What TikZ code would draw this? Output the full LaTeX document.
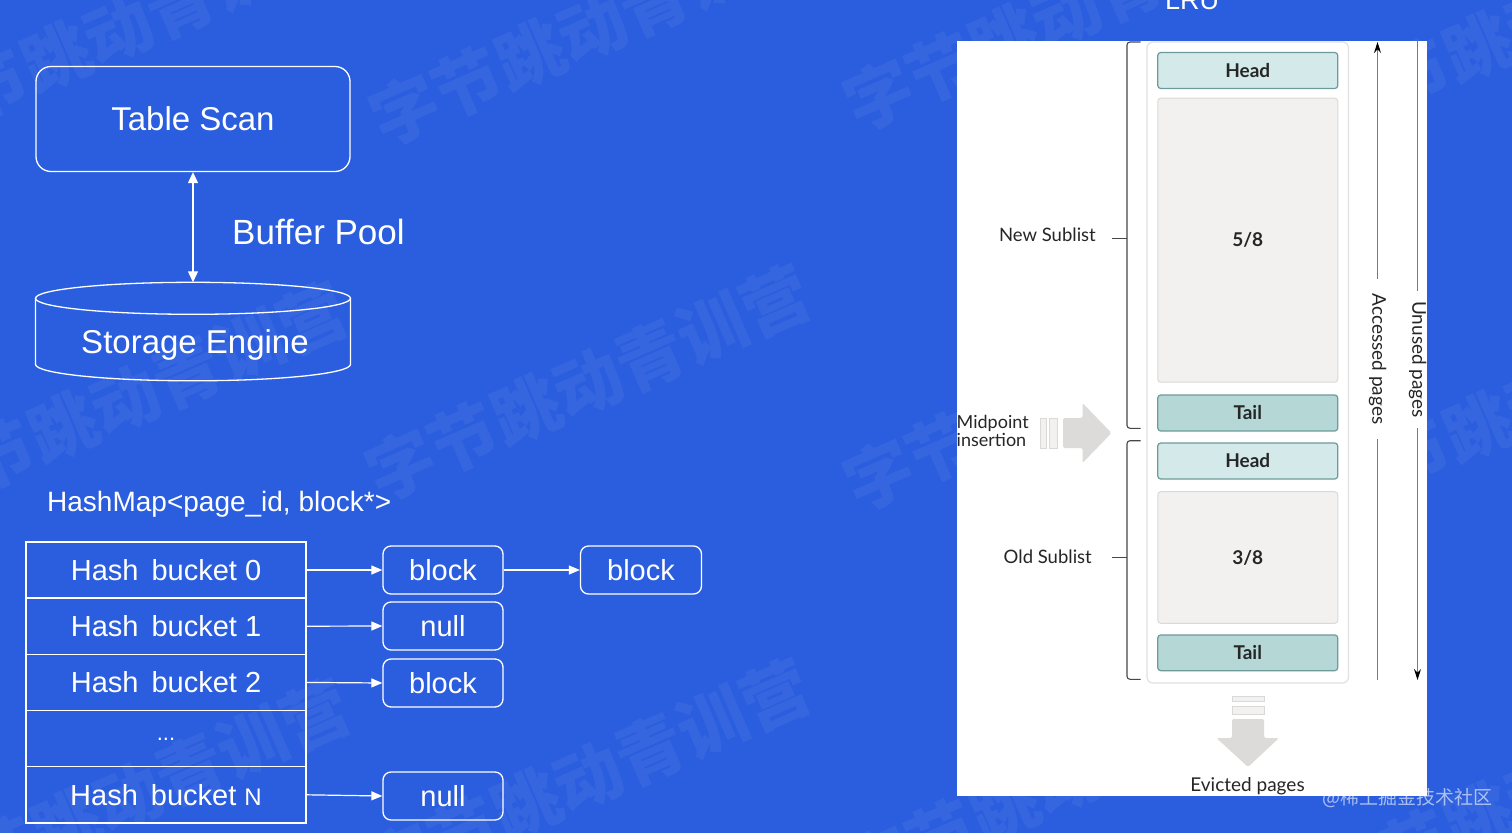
\documentclass[tikz,border=0pt]{standalone}
\usepackage{fontspec}
\setmainfont{Liberation Sans}
\newfontfamily\lato{Lato}
\newfontfamily\cjk{Noto Sans CJK SC}
\usetikzlibrary{arrows.meta,calc}
\definecolor{bg}{HTML}{2B5EDE}
\definecolor{txt}{HTML}{262626}
\definecolor{tealbd}{HTML}{6E9B9A}
\definecolor{headfill}{HTML}{D4EAEA}
\definecolor{tailfill}{HTML}{B5D8D7}
\definecolor{grayfill}{HTML}{F3F1EF}
\definecolor{graybd}{HTML}{D9D9D9}
\definecolor{arrowgray}{HTML}{DCDBD9}
\definecolor{linegray}{HTML}{7A7A7A}
\tikzset{
  wline/.style={draw=white, line width=1.3pt},
  tsbox/.style={wline, rounded corners=15pt, minimum width=314pt, minimum height=105pt, inner sep=0pt,
    text=white, font=\fontsize{33}{36}\selectfont},
  cell/.style={wline, minimum width=280pt, minimum height=56.2pt, inner sep=0pt,
    text=white, font=\fontsize{29}{32}\selectfont},
  blk/.style={wline, rounded corners=8pt, minimum width=120pt, minimum height=48pt, inner sep=0pt,
    text=white, font=\fontsize{29}{32}\selectfont},
  warr/.style={draw=white, line width=1.2pt, -{Triangle[length=11pt,width=9pt]}},
  wdarr/.style={draw=white, line width=1.2pt, {Triangle[length=11pt,width=10pt]}-{Triangle[length=11pt,width=10pt]}},
  wtext/.style={text=white, inner sep=0pt},
  wm/.style={text=white, text opacity=0.055, inner sep=0pt, font=\cjk\bfseries\fontsize{68}{68}\selectfont, rotate=23.7},
  lrulab/.style={text=txt, inner sep=0pt, font=\lato\fontsize{18}{17.5}\selectfont},
  headbox/.style={draw=tealbd, fill=headfill, line width=1.2pt, rounded corners=3pt,
    minimum width=180pt, minimum height=36pt, inner sep=0pt, text=txt, font=\lato\bfseries\fontsize{19}{20}\selectfont},
  tailbox/.style={headbox, fill=tailfill},
  graybox/.style={draw=graybd, fill=grayfill, line width=1pt, rounded corners=3pt,
    minimum width=180pt, inner sep=0pt, text=txt, font=\lato\bfseries\fontsize{19}{20}\selectfont},
  brc/.style={draw=txt!85, line width=1.1pt, rounded corners=3pt},
  gline/.style={draw=linegray, line width=1pt},
  gtip/.style={-{Stealth[length=11pt,width=7pt,black]}},
}
\begin{document}
\begin{tikzpicture}[x=1pt,y=-1pt]
\useasboundingbox (0,0) rectangle (1512,833);
\fill[bg] (0,0) rectangle (1512,833);

% faint background watermarks
\foreach \cx/\cy in {118/30, 592/28, 1066/13, 1540/20, 125/400, 588/383, 1066/393, 1540/400, 128/797, 588/777, 1066/780, 1540/790}{
  \node[wm] at (\cx,\cy) {字节跳动青训营};
}

% ---------- Table scan / buffer pool / storage engine ----------
\node[tsbox] (ts) at (193,119) {Table Scan};
\node[inner sep=0pt, minimum width=314pt, minimum height=99pt] (se) at (193,332) {};
\draw[wline] ($(se.north)+(0,16)$) ellipse[x radius=157.5pt, y radius=16pt];
\draw[wline] ($(se.north)+(0,16)$) ++(-157.5,0) -- ++(0,66)
  arc[start angle=180, end angle=360, x radius=157.5pt, y radius=16.5pt] -- ++(0,-66);
\node[wtext, anchor=base, font=\fontsize{33}{36}\selectfont] (setext) at (195,353.5) {Storage Engine};
\draw[wdarr] (ts.south) -- (se.north);
\node[wtext, anchor=base west, font=\fontsize{35}{38}\selectfont] (bp) at (232,244) {Buffer Pool};

% ---------- HashMap ----------
\node[wtext, anchor=base west, font=\fontsize{28}{30}\selectfont] (hm) at (47,511) {HashMap<page\_id, block*>};
\node[cell] (r0) at (166,570) {Hash\hspace{0.45em}bucket 0};
\node[cell] (r1) at (166,626.2) {Hash\hspace{0.45em}bucket 1};
\node[cell] (r2) at (166,682.4) {Hash\hspace{0.45em}bucket 2};
\node[cell, font=\fontsize{22}{24}\selectfont] (r3) at (166,738.6) {\raisebox{-3pt}{...}\hspace{24pt}};
\node[cell] (r4) at (166,794.8) {Hash\hspace{0.45em}bucket {\fontsize{24}{26}\selectfont N}};

\node[blk] (b0) at (443,570) {block};
\node[blk] (b1) at (443,626) {null};
\node[blk] (b2) at (443,683) {block};
\node[blk] (b4) at (443,796) {null};
\node[blk, minimum width=121pt] (b0b) at (641,570) {block};
\draw[warr] (r0.east) -- (b0.west);
\draw[warr] (r1.east) -- (b1.west);
\draw[warr] (r2.east) -- (b2.west);
\draw[warr] (r4.east) -- (b4.west);
\draw[warr] (b0.east) -- (b0b.west);

% ---------- LRU panel ----------
\node[wtext, anchor=base, font=\fontsize{27}{28}\selectfont] (lru) at (1192,9) {LRU};
\node[fill=white, minimum width=470pt, minimum height=755pt, inner sep=0pt] (panel) at (1192,418.5) {};
\node[draw=graybd!80, line width=1.2pt, rounded corners=6pt, minimum width=201.5pt, minimum height=641pt, inner sep=0pt] (list) at (1247.75,362.5) {};

\node[headbox] (h1) at (1247.75,70.5) {Head};
\node[graybox, minimum height=284pt] (g1) at (1247.75,240.2) {5/8};
\node[tailbox] (t1) at (1247.75,413) {Tail};
\node[headbox] (h2) at (1247.75,461) {Head};
\node[graybox, minimum height=131.6pt] (g2) at (1247.75,557.5) {3/8};
\node[tailbox, minimum height=35.7pt] (t2) at (1247.75,652.8) {Tail};

% braces
\draw[brc] (1140.5,42) -- (1127,42) -- (1127,428.3) -- (1140.5,428.3);
\draw[brc] (1127,238.3) -- (1112,238.3);
\draw[brc] (1140.5,440.7) -- (1127,440.7) -- (1127,679.3) -- (1140.5,679.3);
\draw[brc] (1127,557.7) -- (1112,557.7);

\node[lrulab, font=\lato\fontsize{18.5}{20}\selectfont, anchor=east] (newsub) at (1096,235) {New Sublist};
\node[lrulab, font=\lato\fontsize{18.5}{20}\selectfont, anchor=east] (oldsub) at (1092,557) {Old Sublist};
\node[lrulab, anchor=base west] (mid1) at (956.5,428.5) {Midpoint};
\node[lrulab, anchor=base west] (mid2) at (956.5,446) {insertion};

% midpoint insertion arrow
\draw[draw=graybd, fill=grayfill, line width=0.8pt] (1040,418) rectangle (1046.5,448);
\draw[draw=graybd, fill=grayfill, line width=0.8pt] (1049.5,418) rectangle (1057,448);
\fill[arrowgray, rounded corners=1.5pt] (1063,418) -- (1082.5,418) -- (1082.5,403) -- (1111.5,433)
  -- (1082.5,463) -- (1082.5,448) -- (1063,448) -- cycle;

% accessed / unused pages
\node[lrulab, rotate=-90, inner xsep=15pt, inner ysep=2pt, font=\lato\fontsize{19}{20}\selectfont] (acc) at (1377.5,359) {Accessed pages};
\coordinate (acctop) at (1377.5,42);
\coordinate (accbot) at (1377.5,680);
\draw[gline, gtip] (acc.west) -- (acctop);
\draw[gline] (acc.east) -- (accbot);
\node[lrulab, rotate=-90, inner xsep=10pt, inner ysep=2pt, font=\lato\fontsize{19}{20}\selectfont] (unu) at (1417.5,359.5) {Unused pages};
\coordinate (untop) at (1417.5,41);
\coordinate (unbot) at (1417.5,680);
\draw[gline] (unu.west) -- (untop);
\draw[gline, gtip] (unu.east) -- (unbot);

% evicted
\draw[draw=graybd, fill=grayfill, line width=0.8pt] (1232,696) rectangle (1264,701);
\draw[draw=graybd, fill=grayfill, line width=0.8pt] (1232,706) rectangle (1264,714);
\fill[arrowgray, rounded corners=1.5pt] (1232,719) -- (1264,719) -- (1264,738) -- (1279,738)
  -- (1248,767) -- (1216.5,738) -- (1232,738) -- cycle;
\node[lrulab, font=\lato\fontsize{19}{20}\selectfont] (evict) at (1247.5,786) {Evicted pages};

% site watermark
\node[text=white, text opacity=0.6, inner sep=0pt, font=\cjk\fontsize{19}{20}\selectfont] (site) at (1407,798) {@稀土掘金技术社区};
\end{tikzpicture}
\end{document}
